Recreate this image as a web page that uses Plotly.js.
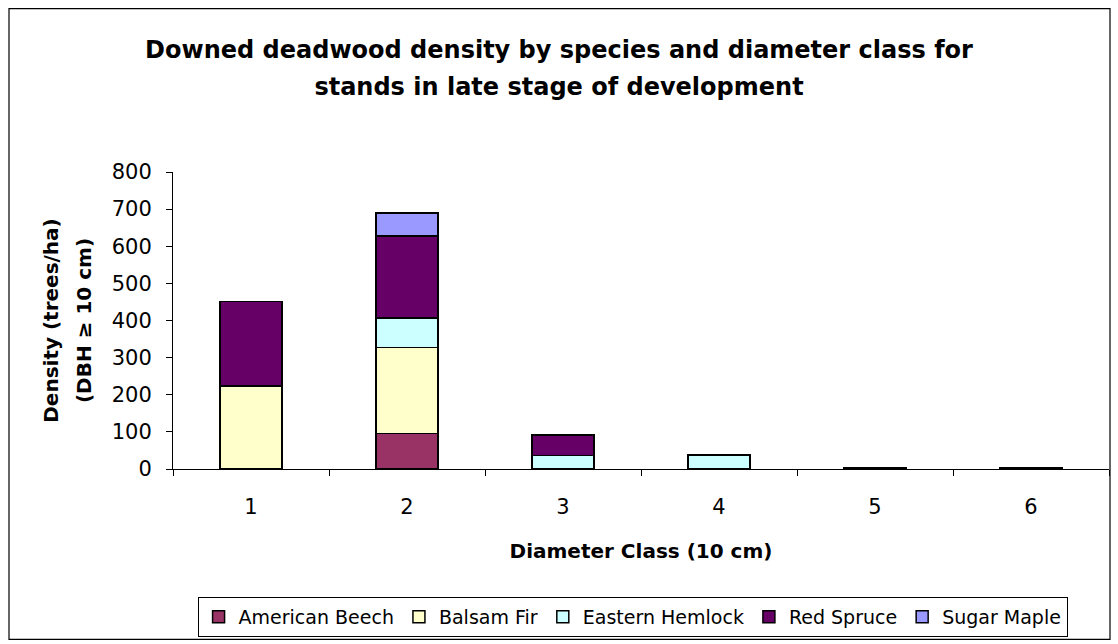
<!DOCTYPE html>
<html>
<head>
<meta charset="utf-8">
<script src="https://cdn.plot.ly/plotly-3.0.1.min.js"></script>
<style>html,body{margin:0;padding:0;background:#fff;}#chart{width:1118px;height:644px;}</style>
</head>
<body>
<div id="chart"></div>
<script>
const categories = ["1", "2", "3", "4", "5", "6"];
const americanBeech = [0, 96, 0, 0, 0, 0];
const balsamFir = [224, 231, 0, 0, 0, 0];
const easternHemlock = [0, 80, 36, 38, 0, 0];
const redSpruce = [227, 221, 56, 0, 4, 4];
const sugarMaple = [0, 61, 0, 0, 0, 0];

const seriesNames = ["American Beech", "Balsam Fir", "Eastern Hemlock", "Red Spruce", "Sugar Maple"];
const seriesValues = [americanBeech, balsamFir, easternHemlock, redSpruce, sugarMaple];
const seriesColors = ["#993366", "#FFFFCC", "#CCFFFF", "#660066", "#9999FF"];

const traces = seriesNames.map((name, i) => ({
  type: "bar",
  name: name,
  x: categories,
  y: seriesValues[i],
  marker: { color: seriesColors[i], line: { color: "#000", width: 1.5 } },
  hoverinfo: "x+y+name"
}));

const font = "DejaVu Sans, Liberation Sans, Arial, sans-serif";
const titleLines = ["Downed deadwood density by species and diameter class for", "stands in late stage of development"];
const yTitleLines = ["Density (trees/ha)", "(DBH ≥ 10 cm)"];
const sized = (lines, px) => "<b>" + lines.map(l => "<span style='font-size:" + px + "px'>" + l + "</span>").join("<br>") + "</b>";

const layout = {
  width: 1118,
  height: 644,
  paper_bgcolor: "#fff",
  plot_bgcolor: "#fff",
  barmode: "stack",
  bargap: 0.6,
  margin: { l: 173, r: 9, t: 172, b: 174 },
  font: { family: font, size: 21, color: "#000" },
  title: {
    text: sized(titleLines, 24),
    font: { family: font, size: 28.5, color: "#000" },
    x: 0.5, xref: "container", xanchor: "center",
    y: 0.91, yref: "container", yanchor: "top"
  },
  xaxis: {
    type: "category",
    tickson: "boundaries",
    ticks: "outside",
    ticklen: 6,
    tickcolor: "#000",
    showline: true,
    linecolor: "#000",
    linewidth: 1,
    showgrid: false,
    zeroline: false,
    ticklabelstandoff: 19,
    tickfont: { family: font, size: 21 },
    title: { text: "<b>Diameter Class (10 cm)</b>", font: { family: font, size: 20 }, standoff: 25 }
  },
  yaxis: {
    range: [0, 800],
    dtick: 100,
    ticks: "outside",
    ticklen: 6,
    tickcolor: "#000",
    showline: true,
    linecolor: "#000",
    linewidth: 1,
    showgrid: false,
    zeroline: false,
    ticklabelstandoff: 10,
    tickfont: { family: font, size: 21 },
    title: { text: sized(yTitleLines, 20), font: { family: font, size: 25.5 }, standoff: 12 }
  },
  legend: {
    orientation: "h",
    x: 0.491, xanchor: "center",
    y: -0.493, yanchor: "middle",
    bordercolor: "#000",
    borderwidth: 1,
    bgcolor: "#fff",
    font: { family: font, size: 19 },
    itemwidth: 30,
    traceorder: "normal"
  },
  shapes: [{
    type: "rect", xref: "paper", yref: "paper",
    x0: (9 - 173) / 936, x1: (1110 - 173) / 936,
    y0: (470 - 641) / 298, y1: (470 - 8) / 298,
    line: { color: "#000", width: 1.2 }, fillcolor: "rgba(0,0,0,0)", layer: "below"
  }],
  showlegend: true
};

Plotly.newPlot("chart", traces, layout, { displayModeBar: false, staticPlot: true });
</script>
</body>
</html>
